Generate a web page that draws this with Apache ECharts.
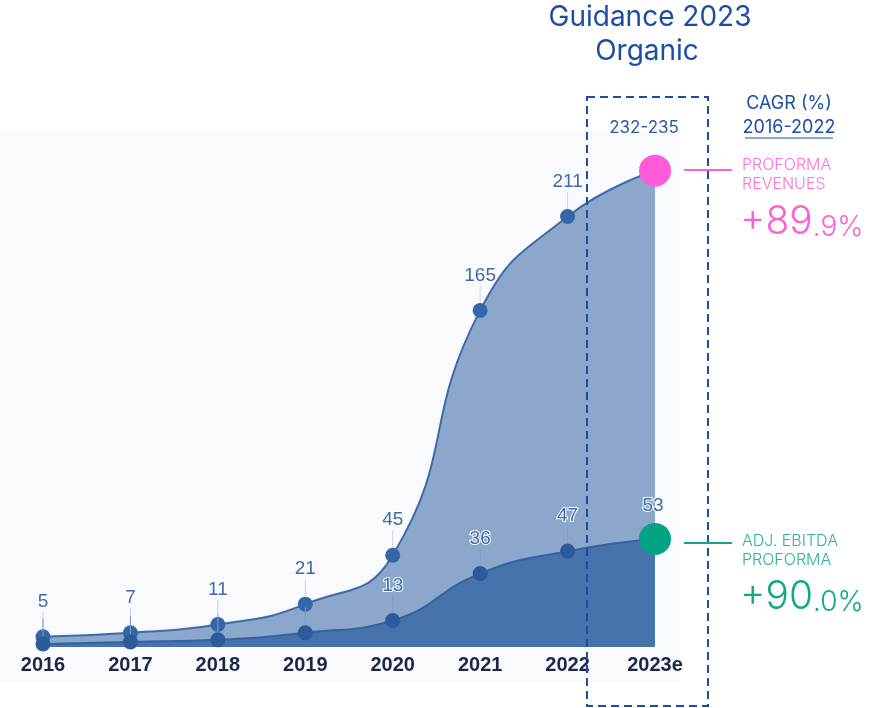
<!DOCTYPE html>
<html>
<head>
<meta charset="utf-8">
<script src="https://cdn.jsdelivr.net/npm/echarts@6/dist/echarts.min.js"></script>
<style>
  html, body { margin: 0; padding: 0; background: #fff; }
  #chart { width: 879px; height: 708px; }
</style>
</head>
<body>
<div id="chart"></div>
<script>
// 年份
const years = ['2016', '2017', '2018', '2019', '2020', '2021', '2022', '2023e'];
// proforma revenues
const revenues = [5, 7, 11, 21, 45, 165, 211, 233.5];
const revenueLabels = ['5', '7', '11', '21', '45', '165', '211', '232-235'];
// adj. ebitda proforma
const ebitda = [1.5, 2.5, 3.5, 7, 13, 36, 47, 53];
const ebitdaLabels = ['', '', '', '', '13', '36', '47', '53'];

const chart = echarts.init(document.getElementById('chart'));

const lastIdx = years.length - 1;

const option = {
  animation: false,
  grid: { left: 43, right: 224, top: 137, bottom: 61 },
  xAxis: {
    type: 'category',
    boundaryGap: false, // 紧挨边缘
    data: years,
    axisLine: { show: false },
    axisTick: { show: false },
    axisLabel: {
      margin: 8,
      color: '#1b2845',
      fontSize: 20,
      fontWeight: 'bold',
      fontFamily: 'Liberation Sans'
    }
  },
  yAxis: {
    type: 'value',
    min: 0,
    max: 250,
    show: false,
    splitLine: { show: false }
  },
  graphic: [
    // 背景
    { type: 'rect', z: -10, shape: { x: 0, y: 130, width: 680, height: 552 }, style: { fill: '#f8fafd' } },
    // 虚线框
    { type: 'rect', z: 100, shape: { x: 587, y: 97, width: 121, height: 609 },
      style: { fill: 'none', stroke: '#1c4fa0', lineWidth: 2, lineDash: [8, 5] } },
    { type: 'text', z: 100, style: { x: 650, y: 18, text: 'Guidance 2023', align: 'center', verticalAlign: 'middle',
      fill: '#1b4ea2', font: '28px Inter' } },
    { type: 'text', z: 100, style: { x: 647, y: 52, text: 'Organic', align: 'center', verticalAlign: 'middle',
      fill: '#1b4ea2', font: '28px Inter' } },
    { type: 'text', z: 100, style: { x: 789, y: 104, text: 'CAGR (%)', align: 'center', verticalAlign: 'middle',
      fill: '#1b4ea2', font: '18px Inter' } },
    { type: 'text', z: 100, style: { x: 789, y: 128, text: '2016-2022', align: 'center', verticalAlign: 'middle',
      fill: '#1b4ea2', font: '18px Inter' } },
    { type: 'line', z: 100, shape: { x1: 745, y1: 138, x2: 833, y2: 138 }, style: { stroke: '#1b4ea2', lineWidth: 1.2 } },
    // revenues
    { type: 'line', z: 100, shape: { x1: 684, y1: 170, x2: 732, y2: 170 }, style: { stroke: '#ff5fd6', lineWidth: 2 } },
    { type: 'text', z: 100, style: { x: 742, y: 165, text: 'PROFORMA', verticalAlign: 'middle',
      fill: '#ff6fdb', font: '300 16px Inter' } },
    { type: 'text', z: 100, style: { x: 742, y: 184, text: 'REVENUES', verticalAlign: 'middle',
      fill: '#ff6fdb', font: '300 16px Inter' } },
    { type: 'text', z: 100, style: { x: 740, y: 222, text: '{a|+89}{b|.9%}', verticalAlign: 'middle',
      rich: { a: { fontSize: 39, fontFamily: 'Inter', fontWeight: 300, fill: '#ff5fd6', verticalAlign: 'bottom' },
              b: { fontSize: 28, fontFamily: 'Inter', fontWeight: 300, fill: '#ff5fd6', verticalAlign: 'bottom' } } } },
    // ebitda
    { type: 'line', z: 100, shape: { x1: 684, y1: 543, x2: 732, y2: 543 }, style: { stroke: '#12a886', lineWidth: 2 } },
    { type: 'text', z: 100, style: { x: 742, y: 541, text: 'ADJ. EBITDA', verticalAlign: 'middle',
      fill: '#2db493', font: '300 16px Inter' } },
    { type: 'text', z: 100, style: { x: 742, y: 560, text: 'PROFORMA', verticalAlign: 'middle',
      fill: '#2db493', font: '300 16px Inter' } },
    { type: 'text', z: 100, style: { x: 740, y: 597, text: '{a|+90}{b|.0%}', verticalAlign: 'middle',
      rich: { a: { fontSize: 39, fontFamily: 'Inter', fontWeight: 300, fill: '#12a886', verticalAlign: 'bottom' },
              b: { fontSize: 28, fontFamily: 'Inter', fontWeight: 300, fill: '#12a886', verticalAlign: 'bottom' } } } }
  ],
  series: [
    {
      name: 'Proforma Revenues',
      type: 'line',
      smooth: 0.5,
      symbol: 'circle',
      symbolSize: 15,
      z: 2,
      data: revenues.map((v, i) => i === lastIdx
        ? { value: v, symbolSize: 32, itemStyle: { color: '#ff5ad7' },
            label: { fontFamily: 'Inter', fontSize: 17, color: '#2a5aa0' }, labelLine: { show: false } }
        : v),
      lineStyle: { color: '#3d6aa8', width: 2 },
      itemStyle: { color: '#3567a8' },
      areaStyle: { color: '#8ba7cc', opacity: 1 },
      label: {
        show: true,
        position: 'top',
        distance: 4,
        formatter: p => revenueLabels[p.dataIndex],
        color: '#3c6aa6',
        fontSize: 19,
        fontFamily: 'Liberation Sans',
        textBorderColor: '#fff',
        textBorderWidth: 2
      },
      labelLayout: p => (p.dataIndex === lastIdx ? { dx: -11, dy: -14 } : { dy: -14 }),
      labelLine: { show: true, lineStyle: { color: '#c9d5e6', width: 1 } }
    },
    {
      name: 'Adj. EBITDA Proforma',
      type: 'line',
      smooth: 0.5,
      symbol: 'circle',
      symbolSize: 15,
      z: 3,
      data: ebitda.map((v, i) => i === lastIdx
        ? { value: v, symbolSize: 32, itemStyle: { color: '#00a383' }, labelLine: { show: false } }
        : v),
      lineStyle: { color: '#3563a0', width: 2 },
      itemStyle: { color: '#2c5a9a' },
      areaStyle: { color: '#4673ab', opacity: 1 },
      label: {
        show: true,
        position: 'top',
        distance: 4,
        formatter: p => ebitdaLabels[p.dataIndex],
        color: '#3c6aa6',
        fontSize: 19,
        fontFamily: 'Liberation Sans',
        textBorderColor: '#fff',
        textBorderWidth: 2
      },
      labelLayout: p => (p.dataIndex === lastIdx ? { dx: -2, dy: -4 } : { dy: -14 }),
      labelLine: { show: true, lineStyle: { color: '#7f9cc5', width: 1 } }
    }
  ]
};

chart.setOption(option);
</script>
</body>
</html>
